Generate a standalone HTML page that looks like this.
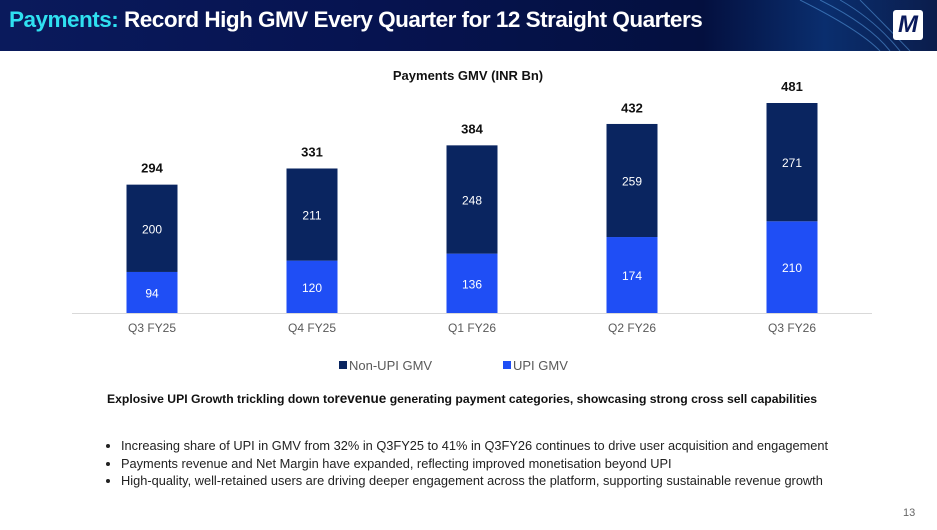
<!DOCTYPE html>
<html><head><meta charset="utf-8"><style>
body{margin:0;width:937px;height:530px;overflow:hidden;background:#fff;font-family:"Liberation Sans",sans-serif;position:relative}
#hdr{position:absolute;left:0;top:0;width:937px;height:51px;background:linear-gradient(90deg,#0a1a5c 0%,#061350 40%,#04103f 75%,#0a2e6e 88%,#0b1d4c 100%);overflow:hidden}
#hdr h1{margin:0;position:absolute;left:9px;top:7px;font-size:22.5px;font-weight:bold;color:#fff;letter-spacing:-0.5px;white-space:nowrap}
#hdr h1 span{color:#2fe0f0}
#logo{position:absolute;left:893px;top:10px;width:30px;height:30px;background:#fff;border-radius:3px;color:#0a1a5c;font-weight:bold;font-style:italic;font-size:24px;text-align:center;line-height:30px}
.t{position:absolute;white-space:nowrap}
ul{position:absolute;left:104px;top:437px;margin:0;padding:0 0 0 17px;font-size:12.8px;color:#222;line-height:17.5px}
</style></head><body>
<div id="hdr">
<svg width="937" height="51" style="position:absolute;left:0;top:0">
<g stroke="#6ab8ff" stroke-opacity="0.45" fill="none">
<path d="M800 0 Q860 30 880 51"/><path d="M820 0 Q870 25 890 51"/><path d="M840 0 Q875 20 900 51"/><path d="M860 0 Q885 25 910 51"/>
</g></svg>
<h1><span>Payments:</span> Record High GMV Every Quarter for 12 Straight Quarters</h1>
<div id="logo">M</div>
</div>
<svg id="chart" width="937" height="400" style="position:absolute;left:0;top:0"></svg>
<div class="t" style="left:107px;top:391px;font-size:12.2px;font-weight:bold;color:#111">Explosive UPI Growth trickling down to<span style="font-size:13.5px">revenue</span> generating payment categories, showcasing strong cross sell capabilities</div>
<ul>
<li>Increasing share of UPI in GMV from 32% in Q3FY25 to 41% in Q3FY26 continues to drive user acquisition and engagement</li>
<li>Payments revenue and Net Margin have expanded, reflecting improved monetisation beyond UPI</li>
<li>High-quality, well-retained users are driving deeper engagement across the platform, supporting sustainable revenue growth</li>
</ul>
<div class="t" style="left:903px;top:507px;font-size:11px;color:#666">13</div>
<script>
const categories=["Q3 FY25","Q4 FY25","Q1 FY26","Q2 FY26","Q3 FY26"];
const upi=[94,120,136,174,210];
const nonUpi=[200,211,248,259,271];
const totals=[294,331,384,432,481];
const NS="http://www.w3.org/2000/svg";
const svg=document.getElementById('chart');
const base=313, scale=210/481, x0=152, step=160, bw=51;
const X=i=>x0+i*step, Y=v=>base-v*scale;
function mk(tag,attrs,txt){const e=document.createElementNS(NS,tag);for(const k in attrs)e.setAttribute(k,attrs[k]);if(txt!=null)e.textContent=txt;svg.appendChild(e);return e;}
let e=mk('text',{x:468,y:80,'text-anchor':'middle','font-size':13,'font-weight':'bold',fill:'#111','font-family':'Liberation Sans'},'Payments GMV (INR Bn)');


e=mk('line',{x1:72,x2:872,y1:base+0.5,y2:base+0.5,stroke:'#d9d9d9','stroke-width':1});


categories.forEach((c,i)=>{
  const cx=X(i);
  let r=mk('rect',{x:cx-bw/2,y:Y(upi[i]),width:bw,height:upi[i]*scale,fill:'#1f4ef5'});
  
  
  r=mk('rect',{x:cx-bw/2,y:Y(upi[i]+nonUpi[i]),width:bw,height:nonUpi[i]*scale,fill:'#0a2560'});
  
  
  let t=mk('text',{x:cx,y:Y(upi[i]/2)+5,'text-anchor':'middle','font-size':12,fill:'#fff','font-family':'Liberation Sans'},upi[i]);
  
  
  t=mk('text',{x:cx,y:Y(upi[i]+nonUpi[i]/2)+5,'text-anchor':'middle','font-size':12,fill:'#fff','font-family':'Liberation Sans'},nonUpi[i]);
  
  
  t=mk('text',{x:cx,y:Y(totals[i])-12,'text-anchor':'middle','font-size':13,'font-weight':'bold',fill:'#111','font-family':'Liberation Sans'},totals[i]);
  
  
  t=mk('text',{x:cx,y:base+19,'text-anchor':'middle','font-size':12,fill:'#595959','font-family':'Liberation Sans'},c);
  
  
});
e=mk('rect',{x:339,y:361,width:8,height:8,fill:'#0a2560'});


e=mk('text',{x:349,y:370,'font-size':13,fill:'#595959','font-family':'Liberation Sans'},'Non-UPI GMV');


e=mk('rect',{x:503,y:361,width:8,height:8,fill:'#1f4ef5'});


e=mk('text',{x:513,y:370,'font-size':13,fill:'#595959','font-family':'Liberation Sans'},'UPI GMV');


</script>
</body></html>
